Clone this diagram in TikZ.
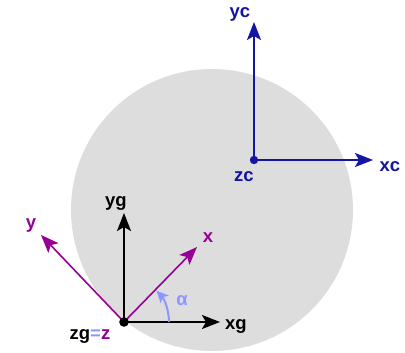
\documentclass[tikz,border=0pt]{standalone}
\usepackage{fontspec}
\setmainfont{Liberation Sans}
\definecolor{csblue}{RGB}{20,20,165}
\definecolor{cspurple}{RGB}{150,0,150}
\definecolor{csalpha}{RGB}{140,150,255}
\definecolor{csgray}{RGB}{221,221,221}
\usetikzlibrary{arrows.meta}

\begin{document}
\begin{tikzpicture}[x=1pt,y=1pt,
  axis/.style={line width=1.9pt,-{Stealth[length=18pt,width=14pt,inset=4pt]}},
  lbl/.style={font=\fontsize{18.5}{20}\selectfont\bfseries,inner sep=0pt}]
  \useasboundingbox (0,0) rectangle (405,-353);
  % gray disc
  \fill[csgray] (212,-210) circle (141);
  % camera frame (blue)
  \coordinate (zc) at (254,-160);
  \coordinate (xc) at (373,-160);
  \coordinate (yc) at (254,-22);
  \draw[axis,csblue] (zc) -- (xc);
  \draw[axis,csblue] (zc) -- (yc);
  \fill[csblue] (zc) circle (4.2);
  \node[lbl,text=csblue] (xclbl) at (390,-167) {xc};
  \node[lbl,text=csblue] (yclbl) at (240,-14) {yc};
  \node[lbl,text=csblue] (zclbl) at (244,-177) {zc};
  % global frame (black)
  \coordinate (zg) at (124,-322);
  \coordinate (xg) at (220,-322);
  \coordinate (yg) at (124,-213);
  \draw[axis] (zg) -- (xg);
  \draw[axis] (zg) -- (yg);
  \node[lbl] (xglbl) at (236,-326) {xg};
  \node[lbl] (yglbl) at (116,-203) {yg};
  % rotated frame (purple)
  \coordinate (x) at (197,-247);
  \coordinate (y) at (41,-235);
  \draw[axis,cspurple,line width=1.6pt] (zg) -- (x);
  \draw[axis,cspurple,line width=1.6pt] (zg) -- (y);
  \node[lbl,text=cspurple] (xlbl) at (208,-238) {x};
  \node[lbl,text=cspurple] (ylbl) at (31,-226) {y};
  % rotation angle
  \draw[csalpha,line width=2pt,-{Stealth[length=12pt,width=11pt,inset=3pt]}]
    ([shift={(0:45)}]zg) arc (0:44:45);
  \node[lbl,text=csalpha] (alpha) at (182,-301) {α};
  % origin
  \fill (zg) circle (4.8);
  \node[lbl] (zglbl) at (90,-336) {zg\textcolor{csalpha}{=}\textcolor{cspurple}{z}};
\end{tikzpicture}
\end{document}
